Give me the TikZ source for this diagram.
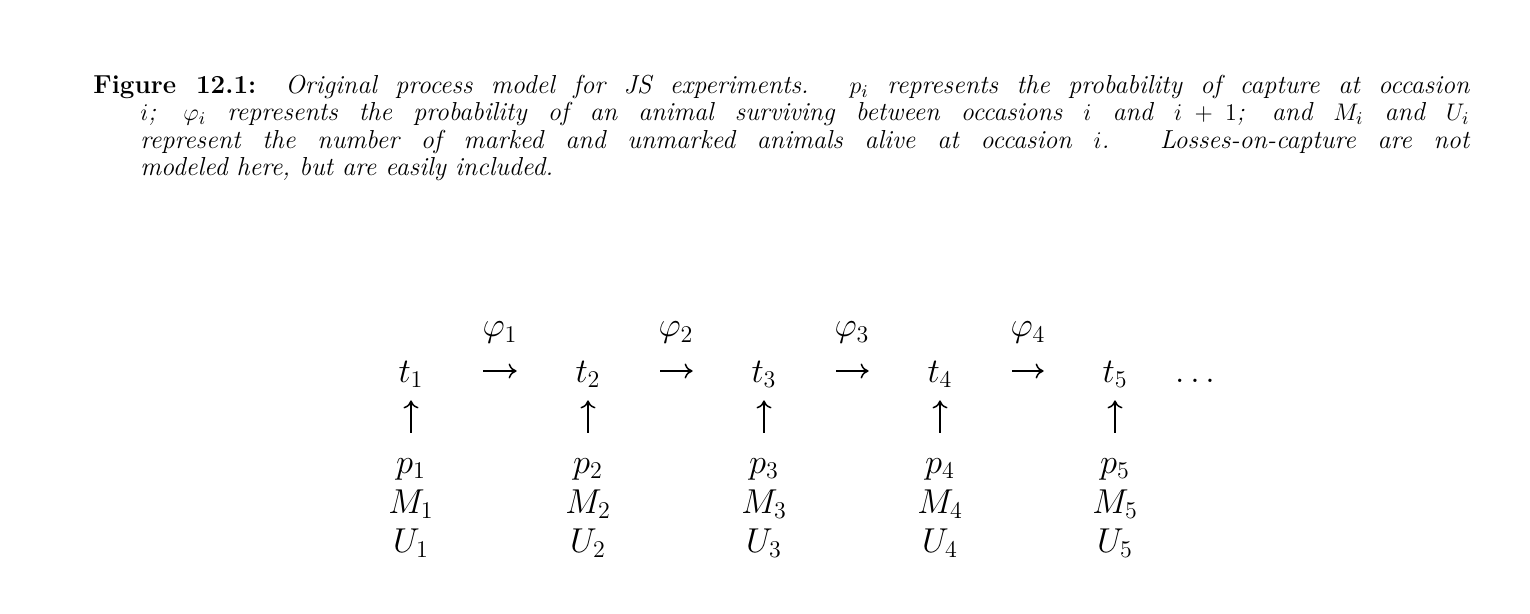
\documentclass[tikz,border=0pt]{standalone}
\usepackage{amsmath}
\usetikzlibrary{arrows.meta}
\begin{document}
\begin{tikzpicture}[x=0.5pt,y=-0.5pt,
  capnode/.style={anchor=north west,inner sep=0pt,align=left},
  dfont/.style={font=\fontsize{17}{20}\selectfont},
  tnode/.style={dfont,anchor=base,inner sep=0pt,minimum width=24pt,text height=12pt,text depth=1pt},
  pnode/.style={dfont,anchor=base,inner sep=0pt,text height=12pt},
  lab/.style={dfont,anchor=base,inner sep=0pt},
  tip/.style={-{To[length=4pt,width=7.5pt]},line width=0.75pt},
  harr/.style={tip,shorten <=24pt,shorten >=23.5pt},
  varr/.style={tip,shorten <=8pt,shorten >=8pt}
]
\useasboundingbox (0,0) rectangle (1530,614);
% caption
\node[capnode] (caption) at (93,75) {\parbox[t]{688pt}{\fontsize{13}{13.6}\selectfont
\hangindent=23.5pt\hangafter=1\noindent
\textbf{Figure 12.1:} \textit{Original process model for JS experiments. $p_i$ represents the probability of capture at occasion\linebreak
$i$; $\varphi_i$ represents the probability of an animal surviving between occasions $i$ and $i+1$; and $M_i$ and $U_i$\linebreak
represent the number of marked and unmarked animals alive at occasion $i$. Losses-on-capture are not\linebreak
modeled here, but are easily included.}}};
% diagram
\foreach \i/\x in {1/411,2/588,3/764,4/940,5/1115}{
  \node[tnode] (t\i) at (\x,382) {$t_\i$};
  \node[pnode] (p\i) at (\x,473) {$p_\i$};
  \node[lab] (M\i) at (\x,513) {$M_\i$};
  \node[lab] (U\i) at (\x,552) {$U_\i$};
  \draw[varr] (p\i.north) -- (t\i.south);
}
\foreach \i/\x in {1/500,2/676,3/852,4/1028}{
  \node[lab] (phi\i) at (\x,337) {$\varphi_\i$};
}
\foreach \i/\j in {1/2,2/3,3/4,4/5}{
  \draw[harr] (t\i.east) -- (t\j.west);
}
\node[lab] (dots) at (1195,382) {$\ldots$};
\end{tikzpicture}
\end{document}
